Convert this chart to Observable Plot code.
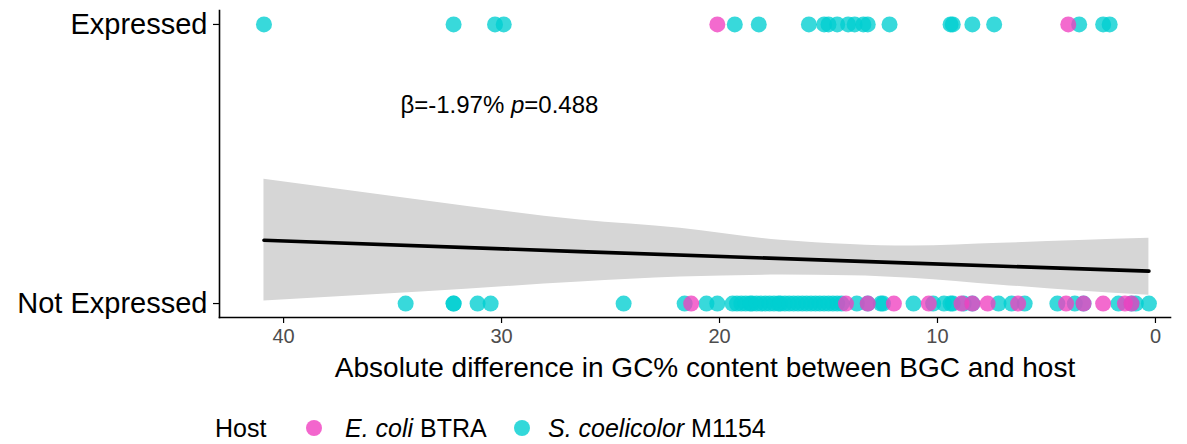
<!DOCTYPE html>
<html>
<head>
<meta charset="utf-8">
<script src="https://cdn.jsdelivr.net/npm/d3@7"></script>
<script src="https://cdn.jsdelivr.net/npm/@observablehq/plot@0.6"></script>
<style>
  html, body { margin: 0; padding: 0; background: #fff; }
  body { width: 1187px; height: 444px; overflow: hidden; font-family: "Liberation Sans", Arial, sans-serif; }
  #legend { position: relative; height: 44px; width: 1187px; font-size: 25px; color: #000; }
  #legend span { position: absolute; white-space: nowrap; line-height: 1; }
  #legend .dot { width: 16px; height: 16px; border-radius: 50%; opacity: 0.8; }
</style>
</head>
<body>
<div id="chart"></div>
<div id="legend"></div>
<script>
// ---- data ----
const hostNames = ["E. coli BTRA", "S. coelicolor M1154"];
const hostColors = ["#F040C0", "#00CED1"];

// Expressed (1)
const expCyan = [40.9, 32.2, 30.3, 29.9, 19.3, 18.2, 15.9, 15.2, 15.0, 14.6, 14.1, 13.8, 13.4, 13.2, 12.2, 9.4, 9.3, 8.4, 7.4, 3.5, 2.4, 2.1];
const expPink = [20.1, 4.0];
// Not expressed (0)
const notCyan = [34.4, 32.2, 32.2, 31.1, 30.5, 24.4, 21.6, 20.6, 20.1,
  19.4, 19.2, 19.0, 18.8, 18.6, 18.5, 18.3, 18.1, 17.9, 17.7, 17.5, 17.3, 17.2, 17.0, 16.8, 16.6, 16.4, 16.2, 16.0,
  15.8, 15.6, 15.4, 15.2, 15.0, 14.8, 14.6, 14.4, 13.7, 13.2, 12.6, 12.5, 11.1, 10.2, 9.7, 9.4, 9.3, 8.8, 8.4, 7.2,
  6.6, 6.0, 4.5, 3.7, 3.3, 1.7, 1.1, 0.9, 0.3];
const notPink = [21.3, 14.2, 13.2, 12.0, 10.4, 8.9, 8.4, 7.7, 6.3, 4.1, 3.3, 2.4, 1.4, 1.1];

// logistic fit and confidence band
const bandX = [40.9, 33.7, 26.4, 21.8, 17.2, 14.0, 11.2, 7.1, 3.5, 0.3];
const bandLower = [0.009, 0.041, 0.077, 0.095, 0.102, 0.100, 0.091, 0.066, 0.045, 0.030];
const bandUpper = [0.445, 0.370, 0.299, 0.270, 0.227, 0.212, 0.206, 0.216, 0.226, 0.234];
const fitX = [40.9, 26.4, 11.2, 0.3];
const fitY = [0.227, 0.186, 0.145, 0.116];

const xTicks = [40, 30, 20, 10, 0];
const yTicks = [0, 1];
const yTickLabels = ["Not Expressed", "Expressed"];
const xTitle = "Absolute difference in GC% content between BGC and host";
const annText = ["β=-1.97% p=0.488"];
const annX = [30.1];
const annY = [0.71];

// ---- build tables ----
const pts = [];
expCyan.forEach(v => pts.push({x: v, y: 1, host: hostNames[1]}));
notCyan.forEach(v => pts.push({x: v, y: 0, host: hostNames[1]}));
expPink.forEach(v => pts.push({x: v, y: 1, host: hostNames[0]}));
notPink.forEach(v => pts.push({x: v, y: 0, host: hostNames[0]}));
const band = bandX.map((x, i) => ({x, lo: bandLower[i], hi: bandUpper[i]}));
const fit = fitX.map((x, i) => ({x, y: fitY[i]}));

const font = '"Liberation Sans", Arial, sans-serif';

const chart = Plot.plot({
  width: 1187,
  height: 400,
  marginLeft: 219,
  marginRight: 17,
  marginTop: 10,
  marginBottom: 83,
  style: {fontFamily: font, background: "#fff", overflow: "visible"},
  x: {domain: [42.94, -0.69]},
  y: {domain: [-0.05, 1.05]},
  color: {domain: hostNames, range: hostColors},
  marks: [
    Plot.areaY(band, {x: "x", y1: "lo", y2: "hi", fill: "#D6D6D6", curve: "monotone-x"}),
    Plot.line(fit, {x: "x", y: "y", stroke: "#000", strokeWidth: 3.6}),
    Plot.dot(pts, {x: "x", y: "y", fill: "host", r: 8, fillOpacity: 0.78, stroke: "none"}),
    Plot.text(annText, {x: annX, y: annY, text: d => d, fontSize: 24, textAnchor: "middle", fill: "#000"}),
    Plot.axisX({ticks: xTicks, tickFormat: d => String(d), tickSize: 6, tickPadding: 5, fontSize: 20, color: "#4D4D4D", stroke: "#000", strokeWidth: 1.2, label: null}),
    Plot.axisY({ticks: yTicks, tickFormat: d => yTickLabels[yTicks.indexOf(d)], tickSize: 6, tickPadding: 6, fontSize: 29, fill: "#000", stroke: "#000", strokeWidth: 1.2, label: null}),
    Plot.frame({anchor: "left", stroke: "#000", strokeWidth: 1.6}),
    Plot.frame({anchor: "bottom", stroke: "#000", strokeWidth: 1.6}),
    Plot.text([xTitle], {frameAnchor: "bottom", dy: 51, text: d => d, fontSize: 28, fill: "#000", lineAnchor: "middle", dx: 10})
  ]
});
document.getElementById("chart").appendChild(chart);

// italic p in annotation
chart.querySelectorAll("text").forEach(t => {
  if (t.textContent === annText[0]) {
    const parts = annText[0].split(" p");
    t.textContent = "";
    const a = document.createElementNS("http://www.w3.org/2000/svg", "tspan");
    a.textContent = parts[0] + " ";
    const b = document.createElementNS("http://www.w3.org/2000/svg", "tspan");
    b.textContent = "p";
    b.setAttribute("font-style", "italic");
    const c = document.createElementNS("http://www.w3.org/2000/svg", "tspan");
    c.textContent = parts[1];
    t.append(a, b, c);
  }
});

// legend
const legend = document.getElementById("legend");
function add(html, left, top, cls, color) {
  const s = document.createElement("span");
  if (cls) { s.className = cls; s.style.background = color; }
  else s.innerHTML = html;
  s.style.left = left + "px";
  s.style.top = top + "px";
  legend.appendChild(s);
}
add("Host", 215, 16);
add(null, 306, 20, "dot", hostColors[0]);
add("<i>E. coli</i> BTRA", 345, 16);
add(null, 514, 20, "dot", hostColors[1]);
add("<i>S. coelicolor</i> M1154", 548, 16);
</script>
</body>
</html>
